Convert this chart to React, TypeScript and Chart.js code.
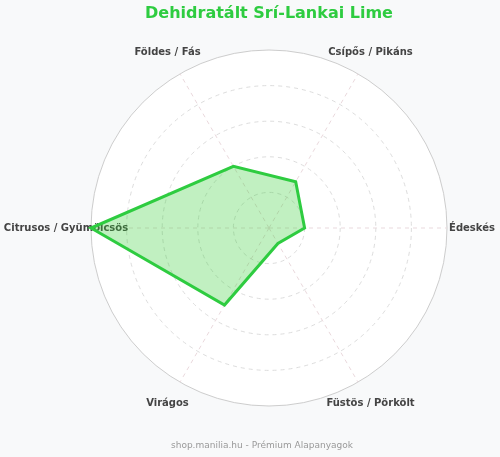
import React, { useEffect, useRef } from "react";
import { Chart, registerables } from "chart.js";

Chart.register(...registerables);

const categories = [
  "Csípős / Pikáns",
  "Édeskés",
  "Füstös / Pörkölt",
  "Virágos",
  "Citrusos / Gyümölcsös",
  "Földes / Fás",
];
const values = [3, 2, 1, 5, 10, 4];
const scaleMin = 0;
const scaleMax = 10;
const scaleStep = 2;
const titleText = "Dehidratált Srí-Lankai Lime";
const footerText = "shop.manilia.hu - Prémium Alapanyagok";

const centeredPointLabels = {
  id: "centeredPointLabels",
  beforeDatasetsDraw(chart: any) {
    const scale = chart.scales.r;
    const ctx = chart.ctx;
    ctx.save();
    ctx.font = "bold 10px 'DejaVu Sans'";
    ctx.fillStyle = "#444444";
    ctx.textAlign = "center";
    ctx.textBaseline = "middle";
    const labels = chart.data.labels as string[];
    labels.forEach((label, i) => {
      const p = scale.getPointPosition(i, scale.drawingArea + 25);
      ctx.fillText(label, p.x, p.y);
    });
    ctx.restore();
  },
};

const footerPlugin = {
  id: "footerText",
  afterDraw(chart: any) {
    const ctx = chart.ctx;
    ctx.save();
    ctx.font = "9px 'DejaVu Sans'";
    ctx.fillStyle = "#999999";
    ctx.textAlign = "center";
    ctx.textBaseline = "middle";
    ctx.fillText(footerText, chart.width / 2 + 12, chart.height - 11);
    ctx.restore();
  },
};

export default function App() {
  const ref = useRef<HTMLCanvasElement | null>(null);

  useEffect(() => {
    document.body.style.margin = "0";
    document.body.style.background = "#f8f9fa";
    const canvas = ref.current;
    if (!canvas) return;
    const chart = new Chart(canvas, {
      type: "radar",
      data: {
        labels: categories,
        datasets: [
          {
            data: values,
            borderColor: "#2ecc40",
            backgroundColor: "rgba(50, 205, 50, 0.3)",
            borderWidth: 3,
            pointRadius: 0,
            pointHoverRadius: 0,
          },
        ],
      },
      options: {
        responsive: false,
        animation: false,
        layout: { padding: { left: 38, right: 0, top: 0, bottom: 50 } },
        plugins: {
          legend: { display: false },
          tooltip: { enabled: false },
          title: {
            display: true,
            text: titleText,
            color: "#2ecc40",
            font: { family: "DejaVu Sans", size: 16, weight: "bold" },
            padding: { top: 4, bottom: 27 },
          },
          subtitle: { display: false },
        },
        scales: {
          r: {
            min: scaleMin,
            max: scaleMax,
            startAngle: 30,
            backgroundColor: "#ffffff",
            ticks: { display: false, stepSize: scaleStep },
            grid: {
              circular: true,
              color: (ctx: any) => (ctx.index === 5 ? "#cccccc" : "#dddddd"),
              lineWidth: 1,
            },
            border: {
              dash: (ctx: any) => (ctx.index === 5 ? [] : [4, 4]),
            },
            angleLines: {
              color: "#ead9dd",
              lineWidth: 1,
              borderDash: [4, 4],
            },
            pointLabels: { display: false },
          },
        },
      },
      plugins: [centeredPointLabels, footerPlugin],
    });
    return () => chart.destroy();
  }, []);

  return (
    <div style={{ width: 500, height: 457, background: "#f8f9fa" }}>
      <canvas ref={ref} width={500} height={457} style={{ display: "block" }} />
    </div>
  );
}
